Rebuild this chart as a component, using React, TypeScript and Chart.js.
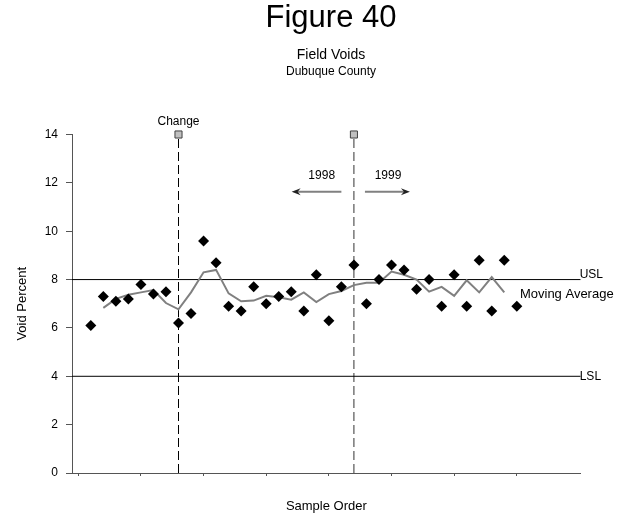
import React, { useEffect, useRef } from 'react';
import { Chart, registerables } from 'chart.js';

Chart.register(...registerables);

// ---- data ----
const sampleOrder = [
  1, 2, 3, 4, 5, 6, 7, 8, 9, 10, 11, 12, 13, 14, 15, 16, 17, 18,
  19, 20, 21, 22, 23, 24, 25, 26, 27, 28, 29, 30, 31, 32, 33, 34, 35,
];
const voidPercent = [
  6.1, 7.3, 7.1, 7.2, 7.8, 7.4, 7.5, 6.2, 6.6, 9.6, 8.7, 6.9, 6.7, 7.7, 7.0, 7.3, 7.5, 6.7,
  8.2, 6.3, 7.7, 8.6, 7.0, 8.0, 8.6, 8.4, 7.6, 8.0, 6.9, 8.2, 6.9, 8.8, 6.7, 8.8, 6.9,
];
const movingAvgOrder = [
  2, 3, 4, 5, 6, 7, 8, 9, 10, 11, 12, 13, 14, 15, 16, 17, 18,
  19, 20, 21, 22, 23, 24, 25, 26, 27, 28, 29, 30, 31, 32, 33, 34,
];
const movingAverage = [
  6.83, 7.2, 7.37, 7.47, 7.57, 7.03, 6.77, 7.47, 8.3, 8.4, 7.43, 7.1, 7.13, 7.33, 7.27, 7.17, 7.47,
  7.07, 7.4, 7.53, 7.77, 7.87, 7.87, 8.33, 8.2, 8.0, 7.5, 7.7, 7.33, 7.97, 7.47, 8.1, 7.47,
];
const USL = 8;
const LSL = 4;
const changeAt = 8;
const yearSplitAt = 22;
const yTicks = [0, 2, 4, 6, 8, 10, 12, 14];
const xTicks = [0, 5, 10, 15, 20, 25, 30, 35];
const xMin = -0.5;
const xMax = 40.1;
const yMin = 0;
const yMax = 14;

// annotation positions in data units
const arrow1998 = { from: 21.0, to: 17.03, y: 11.63 };
const arrow1999 = { from: 22.88, to: 26.47, y: 11.63 };
const label1998 = { text: '1998', x: 19.43, y: 12.28 };
const label1999 = { text: '1999', x: 24.72, y: 12.28 };
const maLabel = { text: 'Moving Average', x: 35.25, y: 7.4 };

const titleText = 'Figure 40';
const subtitle1 = 'Field Voids';
const subtitle2 = 'Dubuque County';

const FONT = '"Liberation Sans", Arial, Helvetica, sans-serif';

export default function App() {
  const ref = useRef<HTMLCanvasElement>(null);

  useEffect(() => {
    document.body.style.margin = '0';
    const canvas = ref.current;
    if (!canvas) return;

    const drawArrow = (ctx: CanvasRenderingContext2D, x1: number, x2: number, y: number) => {
      const dir = x2 > x1 ? 1 : -1;
      ctx.save();
      ctx.strokeStyle = '#808080';
      ctx.lineWidth = 2;
      ctx.beginPath();
      ctx.moveTo(x1, y);
      ctx.lineTo(x2 - dir * 4, y);
      ctx.stroke();
      ctx.fillStyle = '#222';
      ctx.beginPath();
      ctx.moveTo(x2, y);
      ctx.lineTo(x2 - dir * 9, y - 3.5);
      ctx.lineTo(x2 - dir * 6, y);
      ctx.lineTo(x2 - dir * 9, y + 3.5);
      ctx.closePath();
      ctx.fill();
      ctx.restore();
    };

    const annot = {
      id: 'annot',
      afterDraw(chart: any) {
        const { ctx } = chart;
        const xs = chart.scales.x;
        const ys = chart.scales.y;
        ctx.save();
        ctx.fillStyle = '#000';
        ctx.textAlign = 'center';
        ctx.textBaseline = 'middle';
        ctx.font = `31px ${FONT}`;
        ctx.fillText(titleText, 331, 18);
        ctx.font = `14px ${FONT}`;
        ctx.fillText(subtitle1, 331, 55);
        ctx.font = `12px ${FONT}`;
        ctx.fillText(subtitle2, 331, 72);

        // Change label
        ctx.font = `12px ${FONT}`;
        ctx.fillText('Change', xs.getPixelForValue(changeAt), ys.getPixelForValue(yMax) - 13);

        // year labels
        ctx.fillText(label1998.text, xs.getPixelForValue(label1998.x), ys.getPixelForValue(label1998.y));
        ctx.fillText(label1999.text, xs.getPixelForValue(label1999.x), ys.getPixelForValue(label1999.y));

        // USL / LSL
        ctx.textAlign = 'left';
        ctx.textBaseline = 'bottom';
        ctx.fillText('USL', chart.chartArea.right - 1, ys.getPixelForValue(USL) + 1);
        ctx.textBaseline = 'middle';
        ctx.fillText('LSL', chart.chartArea.right - 1, ys.getPixelForValue(LSL));
        ctx.font = `13px ${FONT}`;
        ctx.fillText(maLabel.text, xs.getPixelForValue(maLabel.x), ys.getPixelForValue(maLabel.y));

        drawArrow(ctx, xs.getPixelForValue(arrow1998.from), xs.getPixelForValue(arrow1998.to), ys.getPixelForValue(arrow1998.y));
        drawArrow(ctx, xs.getPixelForValue(arrow1999.from), xs.getPixelForValue(arrow1999.to), ys.getPixelForValue(arrow1999.y));
        ctx.restore();
      },
    };

    const chart = new Chart(canvas, {
      type: 'scatter',
      data: {
        datasets: [
          {
            label: 'Void Percent',
            data: voidPercent.map((v, i) => ({ x: sampleOrder[i], y: v })),
            showLine: false,
            pointStyle: 'rectRot',
            pointRadius: 5.5,
            pointBackgroundColor: '#000',
            pointBorderColor: '#000',
            pointBorderWidth: 0,
            clip: false,
          },
          {
            label: 'Moving Average',
            data: movingAverage.map((v, i) => ({ x: movingAvgOrder[i], y: v })),
            showLine: true,
            borderColor: '#808080',
            borderWidth: 2,
            pointRadius: 0,
          },
          {
            label: 'USL',
            data: [{ x: xMin, y: USL }, { x: xMax, y: USL }],
            showLine: true,
            borderColor: '#000',
            borderWidth: 1,
            pointRadius: 0,
          },
          {
            label: 'LSL',
            data: [{ x: xMin, y: LSL }, { x: xMax, y: LSL }],
            showLine: true,
            borderColor: '#000',
            borderWidth: 1,
            pointRadius: 0,
          },
          {
            label: 'Change',
            data: [{ x: changeAt, y: yMin }, { x: changeAt, y: yMax }],
            showLine: true,
            borderColor: '#000',
            borderWidth: 1,
            borderDash: [9, 4],
            pointStyle: 'rect',
            pointRadius: [0, 5],
            pointBackgroundColor: '#c0c0c0',
            pointBorderColor: '#404040',
            pointBorderWidth: 1,
            clip: false,
          },
          {
            label: 'Year',
            data: [{ x: yearSplitAt, y: yMin }, { x: yearSplitAt, y: yMax }],
            showLine: true,
            borderColor: '#333',
            borderWidth: 1,
            borderDash: [9, 4],
            pointStyle: 'rect',
            pointRadius: [0, 5],
            pointBackgroundColor: '#c0c0c0',
            pointBorderColor: '#404040',
            pointBorderWidth: 1,
            clip: false,
          },
        ],
      },
      options: {
        responsive: false,
        animation: false,
        devicePixelRatio: 1,
        layout: { padding: { top: 134.5, right: 46.3, left: 0, bottom: 0 } },
        plugins: {
          legend: { display: false },
          tooltip: { enabled: false },
          title: { display: false },
        },
        scales: {
          x: {
            type: 'linear',
            min: xMin,
            max: xMax,
            afterBuildTicks: (s: any) => {
              s.ticks = xTicks.map((v) => ({ value: v }));
            },
            afterFit: (s: any) => {
              s.height = 43;
            },
            grid: { display: true, drawOnChartArea: false, drawTicks: true, tickLength: 3, color: '#555', lineWidth: 1 },
            border: { display: true, color: '#555', width: 1 },
            ticks: { display: false },
            title: {
              display: true,
              text: 'Sample Order',
              color: '#000',
              font: { family: FONT, size: 13 },
              padding: { top: 0, bottom: 2 },
            },
          },
          y: {
            type: 'linear',
            min: yMin,
            max: yMax,
            afterBuildTicks: (s: any) => {
              s.ticks = yTicks.map((v) => ({ value: v }));
            },
            afterFit: (s: any) => {
              s.width = 72;
            },
            grid: { display: true, drawOnChartArea: false, drawTicks: true, tickLength: 6, color: '#555', lineWidth: 1 },
            border: { display: true, color: '#555', width: 1 },
            ticks: { color: '#000', padding: 8, font: { family: FONT, size: 12 } },
            title: {
              display: true,
              text: 'Void Percent',
              color: '#000',
              font: { family: FONT, size: 13 },
              padding: { top: 15, bottom: 0 },
            },
          },
        },
      },
      plugins: [annot],
    } as any);

    return () => chart.destroy();
  }, []);

  return (
    <div style={{ position: 'absolute', left: 0, top: 0, width: 627, height: 516 }}>
      <canvas ref={ref} width={627} height={516} style={{ width: 627, height: 516, display: 'block' }} />
    </div>
  );
}
